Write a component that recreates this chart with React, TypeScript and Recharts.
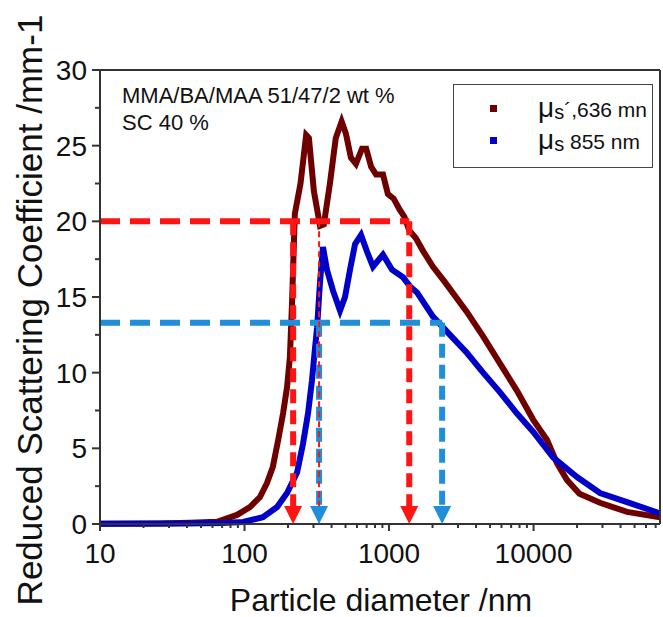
import { LineChart, Line, XAxis, YAxis, ReferenceLine, ReferenceDot, Legend, Label } from "recharts";

const FONT = '"Liberation Sans", Arial, Helvetica, sans-serif';

// particle diameter (nm) and mu_s' (mm-1)
const d636 = [10, 26, 42, 64.5, 88.7, 109, 128, 143, 157, 171, 185, 197, 206, 213, 223, 244, 267, 279, 302, 333, 354, 390, 428, 470, 503, 545, 590, 650, 695, 752, 813, 908, 982, 1077, 1180, 1277, 1380, 1530, 1730, 2015, 2430, 3466, 4476, 5866, 7686, 9930, 12400, 14550, 17060, 20800, 28840, 44360, 75000];
const mu636 = [0.02, 0.04, 0.08, 0.15, 0.6, 1.12, 1.78, 2.7, 3.77, 5.55, 7.33, 9.05, 11.0, 14.5, 20.5, 22.5, 25.7, 25.5, 22.0, 19.7, 19.8, 22.5, 25.5, 26.6, 25.8, 24.2, 23.8, 24.8, 24.8, 23.6, 23.1, 23.1, 21.8, 21.5, 20.8, 20.3, 19.4, 18.9, 18.0, 17.0, 16.0, 14.0, 12.4, 10.6, 8.8, 6.9, 5.55, 4.0, 2.9, 2.0, 1.4, 0.8, 0.45];

const d855 = [10, 40, 70, 97.7, 134, 168, 197, 231, 254, 275, 293, 308, 318, 333, 349, 372, 410, 458, 496, 537, 582, 640, 704, 775, 908, 1049, 1250, 1397, 1562, 2015, 2642, 3466, 4476, 5866, 7686, 9930, 13650, 20000, 28840, 44360, 75000];
const mu855 = [0.02, 0.03, 0.06, 0.13, 0.45, 1.12, 2.05, 3.4, 5.3, 7.3, 9.5, 11.7, 13.0, 16.0, 18.3, 16.8, 15.4, 14.1, 15.0, 16.8, 18.5, 19.1, 18.0, 17.0, 17.8, 16.8, 16.3, 15.7, 15.3, 13.7, 12.5, 11.3, 10.0, 8.7, 7.3, 6.1, 4.4, 3.1, 2.05, 1.45, 0.7];

// guide lines: level and the diameters where they are dropped to the axis
const redLevel = 20;
const redMarks = [217, 1380];
const redThinMark = 328;
const blueLevel = 13.3;
const blueMarks = [328, 2330];

const xMajor = [10, 100, 1000, 10000];
const yMajor = [0, 5, 10, 15, 20, 25, 30];

const xTicks: number[] = [];
xMajor.forEach((m) => {
  for (let k = 1; k <= 9; k++) if (m * k <= 75000) xTicks.push(m * k);
});
const yTicks: number[] = [];
yMajor.forEach((v) => {
  yTicks.push(v);
  if (v < 30) yTicks.push(v + 2.5);
});

const series636 = d636.map((d, i) => ({ d, v: mu636[i] }));
const series855 = d855.map((d, i) => ({ d, v: mu855[i] }));

const AXIS = "#333";
const BROWN = "#6e0000";
const BLUE = "#0000c8";
const RED = "#ff1414";
const LBLUE = "#1f8fdc";

const isMajorX = (v: number) => xMajor.includes(v);
const isMajorY = (v: number) => yMajor.includes(v);

function BottomTick(props: any) {
  const { x, y, payload } = props;
  const major = isMajorX(payload.value);
  return (
    <g>
      <line x1={x} x2={x} y1={y} y2={y + (major ? 7 : 4)} stroke={AXIS} strokeWidth={2} />
      {major && (
        <text x={x} y={y + 39} textAnchor="middle" fontSize={28} fontFamily={FONT} fill="#111">
          {payload.value}
        </text>
      )}
    </g>
  );
}

function TopTick(props: any) {
  const { x, y, payload } = props;
  const major = isMajorX(payload.value);
  return <line x1={x} x2={x} y1={y} y2={y + (major ? 8 : 4)} stroke={AXIS} strokeWidth={2} />;
}

function LeftTick(props: any) {
  const { x, y, payload } = props;
  const major = isMajorY(payload.value);
  return (
    <g>
      <line x1={x - (major ? 8 : 5)} x2={x} y1={y} y2={y} stroke={AXIS} strokeWidth={2} />
      {major && (
        <text x={x - 13} y={y} dy="0.36em" textAnchor="end" fontSize={28} fontFamily={FONT} fill="#111">
          {payload.value}
        </text>
      )}
    </g>
  );
}

function RightTick(props: any) {
  const { x, y, payload } = props;
  const major = isMajorY(payload.value);
  return <line x1={x - (major ? 8 : 5)} x2={x} y1={y} y2={y} stroke={AXIS} strokeWidth={2} />;
}

const arrow = (color: string) => (p: any) => (
  <polygon
    points={`${p.cx - 9},${p.cy - 18} ${p.cx + 9},${p.cy - 18} ${p.cx},${p.cy}`}
    fill={color}
  />
);

function LegendBox() {
  const row = (color: string, rest: string, top: number) => (
    <div style={{ position: "absolute", left: 0, top, height: 28, width: 200 }}>
      <div style={{ position: "absolute", left: 36, top: 11, width: 7, height: 7, background: color }} />
      <div
        style={{
          position: "absolute",
          left: 84,
          top: 0,
          height: 28,
          lineHeight: "28px",
          whiteSpace: "nowrap",
          fontFamily: FONT,
          color: "#111",
        }}
      >
        <span style={{ fontSize: 28 }}>μ</span>
        <span style={{ fontSize: 20, verticalAlign: "-2px" }}>s</span>
        <span style={{ fontSize: 21 }}>{rest}</span>
      </div>
    </div>
  );
  return (
    <div style={{ position: "relative", width: 200, height: 84, border: "1px solid #444", boxSizing: "border-box", background: "#fff" }}>
      {row(BROWN, "´,636 mn", 9)}
      {row(BLUE, " 855 nm", 41)}
    </div>
  );
}

export default function App() {
  return (
    <div style={{ position: "absolute", left: 0, top: 0, width: 663, height: 617, background: "#fff" }}>
      <LineChart width={663} height={617} margin={{ top: 69, right: 2, bottom: 92, left: 99 }}>
        <XAxis
          xAxisId="b"
          dataKey="d"
          type="number"
          scale="log"
          domain={[10, 75000]}
          allowDataOverflow
          ticks={xTicks}
          interval={0}
          height={1}
          tickSize={0}
          tickMargin={0}
          tickLine={false}
          tick={<BottomTick />}
          axisLine={{ stroke: AXIS, strokeWidth: 2 }}
        >
          <Label
            content={() => (
              <text x={381} y={611} textAnchor="middle" fontSize={32} fontFamily={FONT} fill="#111">
                Particle diameter /nm
              </text>
            )}
          />
        </XAxis>
        <XAxis
          xAxisId="t"
          orientation="top"
          type="number"
          scale="log"
          domain={[10, 75000]}
          allowDataOverflow
          ticks={xTicks}
          interval={0}
          height={1}
          tickSize={0}
          tickMargin={0}
          tickLine={false}
          tick={<TopTick />}
          axisLine={{ stroke: AXIS, strokeWidth: 2 }}
        />
        <YAxis
          yAxisId="l"
          type="number"
          domain={[0, 30]}
          ticks={yTicks}
          interval={0}
          width={1}
          tickSize={0}
          tickMargin={0}
          tickLine={false}
          tick={<LeftTick />}
          axisLine={{ stroke: AXIS, strokeWidth: 2 }}
        >
          <Label
            content={() => (
              <g fontFamily={FONT} fill="#111">
                <text transform="translate(42,310) rotate(-90)" textAnchor="middle" fontSize={35}>
                  Reduced Scattering Coefficient /mm-1
                </text>
                <text x={122} y={103} fontSize={22}>MMA/BA/MAA 51/47/2 wt %</text>
                <text x={122} y={130} fontSize={22}>SC 40 %</text>
              </g>
            )}
          />
        </YAxis>
        <YAxis
          yAxisId="r"
          orientation="right"
          type="number"
          domain={[0, 30]}
          ticks={yTicks}
          interval={0}
          width={1}
          tickSize={0}
          tickMargin={0}
          tickLine={false}
          tick={<RightTick />}
          axisLine={{ stroke: AXIS, strokeWidth: 2 }}
        />

        <Line
          xAxisId="b"
          yAxisId="l"
          data={series636}
          dataKey="v"
          type="linear"
          stroke={BROWN}
          strokeWidth={6}
          dot={false}
          isAnimationActive={false}
        />
        <Line
          xAxisId="b"
          yAxisId="l"
          data={series855}
          dataKey="v"
          type="linear"
          stroke={BLUE}
          strokeWidth={6}
          dot={false}
          isAnimationActive={false}
        />

        <ReferenceLine
          xAxisId="b"
          yAxisId="l"
          segment={[{ x: 10, y: redLevel }, { x: redMarks[1], y: redLevel }]}
          stroke={RED}
          strokeWidth={6}
          strokeDasharray="20 10"
        />
        {redMarks.map((m) => (
          <ReferenceLine
            key={"rv" + m}
            xAxisId="b"
            yAxisId="l"
            segment={[{ x: m, y: redLevel }, { x: m, y: 1 }]}
            stroke={RED}
            strokeWidth={6}
            strokeDasharray="14 7"
          />
        ))}
        <ReferenceLine
          xAxisId="b"
          yAxisId="l"
          segment={[{ x: 10, y: blueLevel }, { x: blueMarks[1], y: blueLevel }]}
          stroke={LBLUE}
          strokeWidth={6}
          strokeDasharray="20 10"
        />
        {blueMarks.map((m) => (
          <ReferenceLine
            key={"bv" + m}
            xAxisId="b"
            yAxisId="l"
            segment={[{ x: m, y: blueLevel }, { x: m, y: 1 }]}
            stroke={LBLUE}
            strokeWidth={6}
            strokeDasharray="14 7"
          />
        ))}
        <ReferenceLine
          xAxisId="b"
          yAxisId="l"
          segment={[{ x: redThinMark, y: redLevel }, { x: redThinMark, y: 0.3 }]}
          stroke={RED}
          strokeWidth={2}
          strokeDasharray="6 4"
        />
        {redMarks.map((m) => (
          <ReferenceDot key={"ra" + m} xAxisId="b" yAxisId="l" x={m} y={0} r={0} shape={arrow(RED)} />
        ))}
        {blueMarks.map((m) => (
          <ReferenceDot key={"ba" + m} xAxisId="b" yAxisId="l" x={m} y={0} r={0} shape={arrow(LBLUE)} />
        ))}
        <ReferenceLine
          xAxisId="b"
          yAxisId="l"
          segment={[{ x: redThinMark, y: 2 }, { x: redThinMark, y: 0.1 }]}
          stroke={RED}
          strokeWidth={2}
          strokeDasharray="4 3"
        />

        <Legend
          layout="horizontal"
          verticalAlign="middle"
          align="center"
          wrapperStyle={{ left: 453, top: 84, width: 200, height: 84 }}
          content={() => <LegendBox />}
        />
      </LineChart>
    </div>
  );
}
